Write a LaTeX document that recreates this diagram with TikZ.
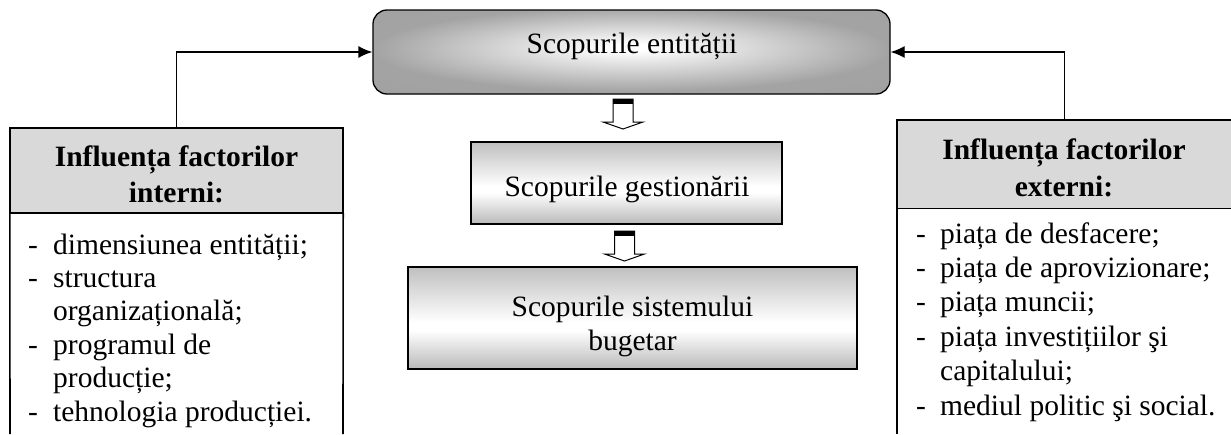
\documentclass[tikz,border=0pt]{standalone}
\usepackage{fontspec}
\setmainfont{Liberation Serif}
\usetikzlibrary{arrows.meta,calc}
\pgfdeclareradialshading{mainshade}{\pgfpoint{0bp}{3bp}}{color(0bp)=(white); color(2bp)=(white); color(25bp)=(gray!72); color(50bp)=(gray!75)}
\pgfdeclareverticalshading{midshade}{100bp}{color(0bp)=(gray!55); color(25bp)=(gray!55); color(44bp)=(white); color(48bp)=(white); color(75bp)=(gray!50); color(100bp)=(gray!50)}
\definecolor{hdrgray}{HTML}{D9D9D9}
\tikzset{
  mainbox/.style={draw, line width=1.3pt, rounded corners=14pt, shading=mainshade, inner sep=0pt},
  midbox/.style={draw, line width=1.8pt, shading=midshade, inner sep=0pt},
  hdrbox/.style={fill=hdrgray, inner sep=0pt},
  frame/.style={line width=1.6pt},
  conn/.style={line width=1.3pt, -{Latex[length=14pt,width=12pt]}},
  txt/.style={inner sep=0pt, font=\fontsize{29.5}{33.4}\selectfont},
  downblk/.pic={
    \filldraw[fill=white, line width=1pt] (-10,0) -- (-10,23) -- (-20,23) -- (0,30) -- (20,23) -- (10,23) -- (10,0) -- cycle;
    \fill (-10,0) rectangle (10,5);
  }
}
\begin{document}
\begin{tikzpicture}[x=1pt,y=-1pt]
\useasboundingbox (0,0) rectangle (1231,434);
% central boxes
\node[mainbox, minimum width=517, minimum height=84] (main) at (631.5,52) {};
\node[txt, anchor=base] (maintxt) at (632,53) {Scopurile entității};
\node[midbox, minimum width=311, minimum height=82] (gest) at (626.5,183) {};
\node[txt, anchor=base] (gesttxt) at (627,196) {Scopurile gestionării};
\node[midbox, minimum width=449, minimum height=102] (bug) at (632.5,318) {};
\node[txt, anchor=base] (bugtxt) at (632.5,316) {\begin{tabular}[t]{@{}c@{}}Scopurile sistemului\\[0.6pt] bugetar\end{tabular}};
\pic at (623,99) {downblk};
\pic at (624.5,231) {downblk};
% left box
\node[hdrbox, minimum width=333, minimum height=85] (lhead) at (176.5,170.5) {};
\draw[frame] (lhead.north west) rectangle (lhead.south east);
\draw[frame] (lhead.south west) -- (10,434) (lhead.south east) -- (343,434);
\node[txt, anchor=base, font=\fontsize{29.5}{36.5}\selectfont\bfseries] (lheadtxt) at (176.5,166) {\begin{tabular}[t]{@{}c@{}}Influența factorilor\\ interni:\end{tabular}};
\node[txt, anchor=base west] (llist) at (28,254) {\begin{tabular}[t]{@{}p{25pt}@{}l@{}}
- & dimensiunea entității;\\
- & structura\\
  & organizațională;\\
- & programul de\\
  & producție;\\
- & tehnologia producției.
\end{tabular}};
% right box
\node[hdrbox, minimum width=334, minimum height=88, anchor=north west] (rhead) at (897,120) {};
\draw[frame] (rhead.north east) -- (rhead.north west) -- (rhead.south west) -- (rhead.south east);
\draw[frame] (rhead.south west) -- (897,434);
\node[txt, anchor=base, font=\fontsize{29.5}{37.5}\selectfont\bfseries] (rheadtxt) at (1064,159) {\begin{tabular}[t]{@{}c@{}}Influența factorilor\\ externi:\end{tabular}};
\node[txt, anchor=base west, font=\fontsize{29.5}{34.4}\selectfont] (rlist) at (916,243) {\begin{tabular}[t]{@{}p{24pt}@{}l@{}}
- & piața de desfacere;\\
- & piața de aprovizionare;\\
- & piața muncii;\\
- & piața investițiilor şi\\
  & capitalului;\\
- & mediul politic şi social.
\end{tabular}};
% connectors
\draw[conn] (lhead.north) |- (main.west);
\draw[conn] (rhead.north) |- (main.east);
\end{tikzpicture}
\end{document}
